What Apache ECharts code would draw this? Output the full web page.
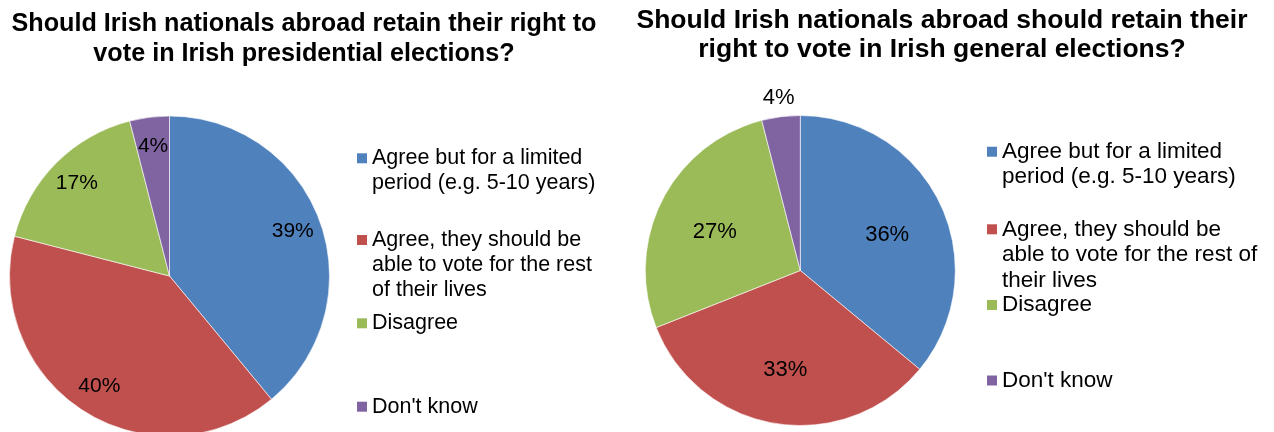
<!DOCTYPE html>
<html>
<head>
<meta charset="utf-8">
<script src="https://cdn.jsdelivr.net/npm/echarts@6/dist/echarts.min.js"></script>
<style>
  html, body { margin: 0; padding: 0; background: #fff; }
  #wrap { position: relative; width: 1274px; height: 432px; overflow: hidden; }
  #presidential { position: absolute; left: 0; top: 0; width: 608px; height: 432px; }
  #general { position: absolute; left: 610px; top: 0; width: 664px; height: 432px; }
</style>
</head>
<body>
<div id="wrap">
  <div id="presidential"></div>
  <div id="general"></div>
</div>
<script>
// Survey answers (shares in %)
const categories = [
  "Agree but for a limited period (e.g. 5-10 years)",
  "Agree, they should be able to vote for the rest of their lives",
  "Disagree",
  "Don't know"
];
const presidentialValues = [39, 40, 17, 4];
const generalValues = [36, 33, 27, 4];

// Wrapped legend text for each panel
const presidentialLegendText = [
  "Agree but for a limited\nperiod (e.g. 5-10 years)",
  "Agree, they should be\nable to vote for the rest\nof their lives",
  "Disagree",
  "Don't know"
];
const generalLegendText = [
  "Agree but for a limited\nperiod (e.g. 5-10 years)",
  "Agree, they should be\nable to vote for the rest of\ntheir lives",
  "Disagree",
  "Don't know"
];

const presidentialTitle = "Should Irish nationals abroad retain their right to\nvote in Irish presidential elections?";
const generalTitle = "Should Irish nationals abroad should retain their\nright to vote in Irish general elections?";

const palette = ['#4F81BD', '#C0504D', '#9BBB59', '#8064A2'];
const FONT = 'Liberation Sans, Arial, sans-serif';
const SWATCH = 10;

// Legend marker: a square next to the first line of a multi-line entry.
// The two zero-length segments only stretch the icon box to the text height.
function swatchIcon(lines, lh) {
  const h = lines * lh;
  const y = lh / 2 - SWATCH / 2;
  return 'path://M0,0L0,0M' + SWATCH + ',' + h + 'L' + SWATCH + ',' + h +
         'M0,' + y + 'h' + SWATCH + 'v' + SWATCH + 'h-' + SWATCH + 'z';
}

function buildOption(cfg) {
  const data = categories.map((name, i) => ({ name, value: cfg.values[i] }));

  const legends = categories.map((name, i) => {
    const lines = cfg.legendText[i].split('\n').length;
    const lh = cfg.legendLine;
    return {
      data: [name],
      orient: 'vertical',
      left: cfg.legendLeft,
      top: cfg.legendCenters[i] - lh / 2,
      padding: 0,
      itemWidth: SWATCH,
      itemHeight: lines * lh,
      icon: swatchIcon(lines, lh),
      itemStyle: { borderWidth: 0 },
      selectedMode: false,
      formatter: () => cfg.legendText[i],
      textStyle: {
        fontFamily: FONT,
        fontSize: cfg.legendFont,
        lineHeight: lh,
        color: '#000'
      }
    };
  });

  // Transparent rings that only carry the percentage labels at the wanted radius
  const labelSeries = cfg.labelRings.map(ring => ({
    type: 'pie',
    silent: true,
    center: cfg.center,
    radius: ring.radius,
    startAngle: 90,
    clockwise: true,
    avoidLabelOverlap: false,
    itemStyle: { color: 'rgba(0,0,0,0)', borderWidth: 0 },
    emphasis: { disabled: true },
    labelLine: { show: false },
    labelLayout: { dy: ring.dy || 0 },
    data: data.map((d, i) => ({
      name: d.name,
      value: d.value,
      label: { show: ring.items.indexOf(i) >= 0 }
    })),
    label: {
      position: 'inside',
      formatter: '{c}%',
      fontFamily: FONT,
      fontSize: cfg.labelFont,
      color: '#000'
    }
  }));

  return {
    animation: false,
    color: palette,
    title: {
      text: cfg.title,
      left: 'center',
      top: cfg.titleTop,
      padding: 0,
      textStyle: {
        fontFamily: FONT,
        fontSize: cfg.titleFont,
        fontWeight: 'bold',
        lineHeight: cfg.titleLine,
        color: '#000'
      }
    },
    legend: legends,
    series: [{
      type: 'pie',
      center: cfg.center,
      radius: [0, cfg.radius],
      startAngle: 90,
      clockwise: true,
      label: { show: false },
      labelLine: { show: false },
      itemStyle: { borderColor: '#ffffff', borderWidth: 0.6 },
      emphasis: { scale: false },
      data: data
    }].concat(labelSeries)
  };
}

const presidential = echarts.init(document.getElementById('presidential'), null, { renderer: 'canvas' });
presidential.setOption(buildOption({
  values: presidentialValues,
  legendText: presidentialLegendText,
  title: presidentialTitle,
  titleTop: 9,
  titleFont: 25.2,
  titleLine: 30,
  center: [169.5, 276],
  radius: 160,
  labelFont: 21,
  labelRings: [{ radius: [96, 160], items: [0, 1, 2, 3] }],
  legendLeft: 357,
  legendFont: 21.5,
  legendLine: 25,
  legendCenters: [158.3, 240, 323.3, 406.7]
}));

const general = echarts.init(document.getElementById('general'), null, { renderer: 'canvas' });
general.setOption(buildOption({
  values: generalValues,
  legendText: generalLegendText,
  title: generalTitle,
  titleTop: 6,
  titleFont: 26.5,
  titleLine: 29,
  center: [190.3, 270.5],
  radius: 155,
  labelFont: 22,
  labelRings: [
    { radius: [31, 155], items: [0, 1, 2], dy: 5 },
    { radius: [155, 186], items: [3] }
  ],
  legendLeft: 377,
  legendFont: 22.5,
  legendLine: 25.5,
  legendCenters: [151.7, 229.3, 305, 380.5]
}));
</script>
</body>
</html>
